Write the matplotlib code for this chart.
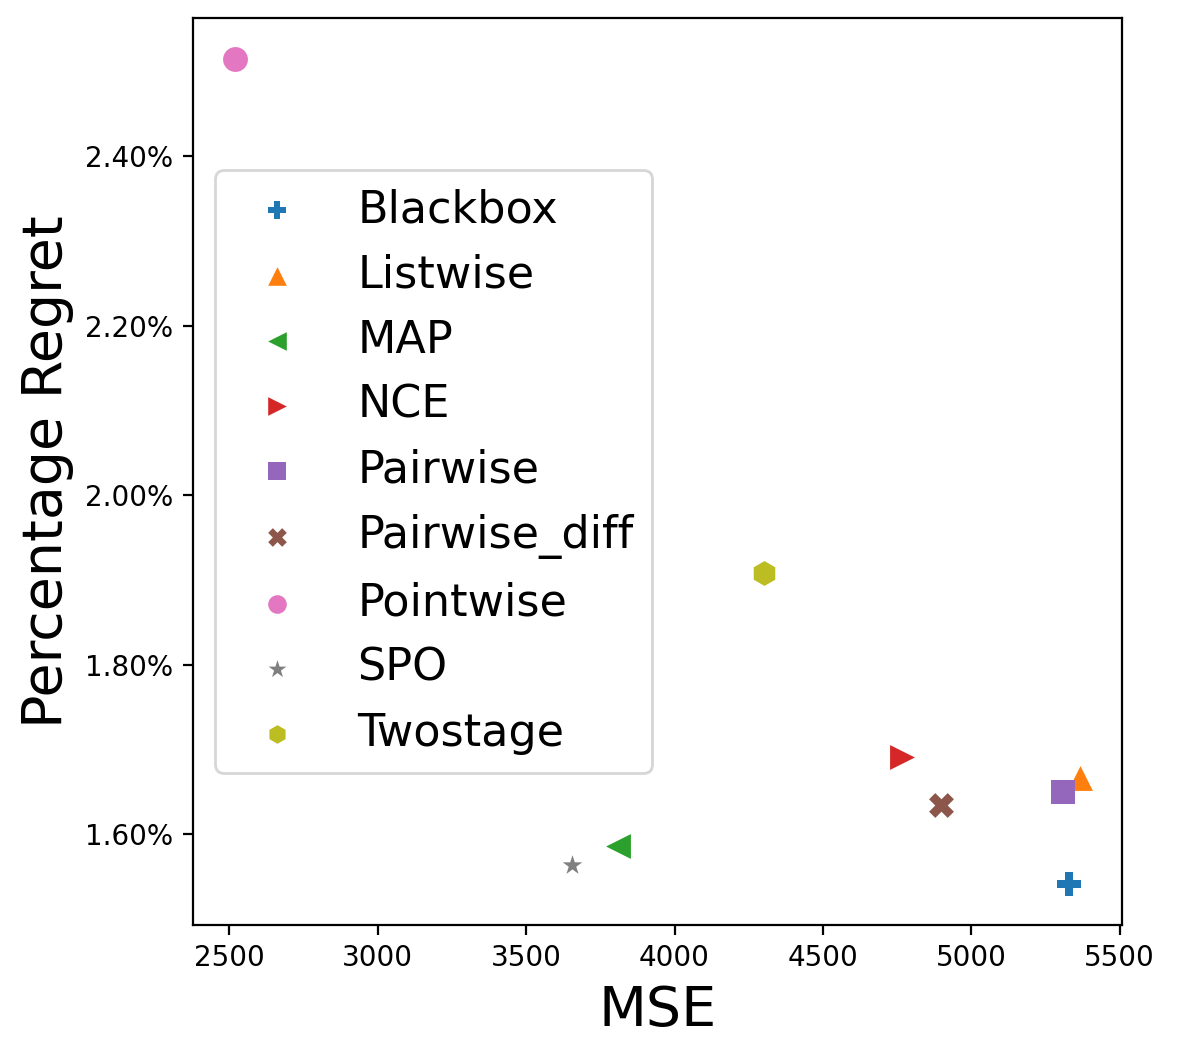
import numpy as np
import matplotlib as mpl
import matplotlib.pyplot as plt
from matplotlib.ticker import PercentFormatter

methods = ['Blackbox', 'Listwise', 'MAP', 'NCE', 'Pairwise',
           'Pairwise_diff', 'Pointwise', 'SPO', 'Twostage']
mse = [5329, 5366, 3809, 4765, 5309, 4899, 2520, 3654, 4302]
regret = [0.015413, 0.01666, 0.01586, 0.01691, 0.01650,
          0.01634, 0.025142, 0.01563, 0.01908]
markers = ['P', '^', '<', '>', 's', 'X', 'o', '*', 'h']
sizes = [80, 80, 80, 80, 80, 80, 80, 55, 80]
colors = plt.get_cmap('tab10').colors

fig = plt.figure(figsize=(5.885, 5.29), dpi=200)
ax = fig.add_axes([0.164, 0.1257, 0.7894, 0.8573])

for i, m in enumerate(methods):
    ax.scatter(mse[i], regret[i], s=sizes[i], marker=markers[i], color=colors[i],
               linewidths=0)

ax.yaxis.set_major_formatter(PercentFormatter(xmax=1, decimals=2))
ax.set_xticks([2500, 3000, 3500, 4000, 4500, 5000, 5500])
ax.set_yticks([0.016, 0.018, 0.020, 0.022, 0.024])
ax.set_xlabel('MSE', fontsize=20)
ax.set_ylabel('Percentage Regret', fontsize=20)

# empty scatters so every legend marker has the same size
handles = [ax.scatter([], [], s=45, marker=markers[i], color=colors[i], linewidths=0)
           for i in range(len(methods))]
ax.legend(handles, methods, loc='center left', fontsize=16)

fig.savefig('out.png', dpi=200)
